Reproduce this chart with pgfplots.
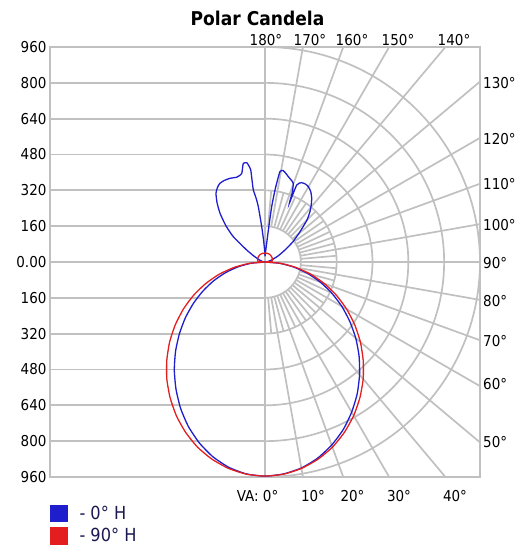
\documentclass[border=0pt]{standalone}
\usepackage{fontspec}
\setmainfont{DejaVu Sans}[FakeStretch=0.9]
\usepackage{pgfplots}
\pgfplotsset{compat=1.18}
\definecolor{gridc}{RGB}{192,192,192}
\definecolor{cblue}{RGB}{30,30,205}
\definecolor{cred}{RGB}{228,30,30}
\definecolor{legtext}{RGB}{25,25,80}
\newcommand{\tickfont}{\fontsize{15}{18}\selectfont}
\begin{document}
\begin{tikzpicture}[gridl/.style={draw=gridc, line width=1.7pt}]
\path[use as bounding box] (-265pt,-284pt) rectangle (266pt,262pt);
\begin{axis}[
  at={(0pt,0pt)}, anchor=center,
  scale only axis, width=430pt, height=430pt,
  xmin=-960, xmax=960, ymin=-960, ymax=960,
  axis line style={draw=gridc, line width=1.8pt},
  xtick=\empty,
  ytick={-960,-800,-640,-480,-320,-160,0,160,320,480,640,800,960},
  yticklabels={960,800,640,480,320,160,0.00,160,320,480,640,800,960},
  tick style={draw=none},
  yticklabel style={font=\tickfont, text=black},
  legend style={at={(axis description cs:0,-0.064)}, anchor=north west,
    draw=none, fill=none, inner sep=0pt, row sep=5.2pt, column sep=12pt,
    font=\fontsize{18}{20}\selectfont, text=legtext, nodes={inner sep=0pt}},
  legend cell align=left,
  legend image code/.code={\fill[#1] (0pt,-8pt) rectangle (16pt,8pt);},
]
% left half horizontal grid
\pgfplotsinvokeforeach{-800,-640,-480,-320,-160,160,320,480,640,800}{
  \draw[gridl] (axis cs:-960,#1) -- (axis cs:0,#1);
}
\draw[gridl] (axis cs:-960,0) -- (axis cs:960,0);
\draw[gridl] (axis cs:0,-960) -- (axis cs:0,960);
% polar arcs on right half
\pgfplotsinvokeforeach{160,320,480,640,800,960}{
  \draw[gridl] plot[domain=-90:90, samples=91, variable=\t] (axis cs:{#1*cos(\t)},{#1*sin(\t)});
}
% 10 degree radial lines
\pgfplotsinvokeforeach{-80,-70,-60,-50,-40,-30,-20,-10,10,20,30,40,50,60,70,80}{
  \draw[gridl] (axis cs:{160*cos(#1)},{160*sin(#1)}) --
    (axis cs:{960/max(abs(cos(#1)),abs(sin(#1)))*cos(#1)},{960/max(abs(cos(#1)),abs(sin(#1)))*sin(#1)});
}
% 5 degree radial lines, inner ring
\pgfplotsinvokeforeach{-85,-75,-65,-55,-45,-35,-25,-15,-5,5,15,25,35,45,55,65,75,85}{
  \draw[gridl] (axis cs:{160*cos(#1)},{160*sin(#1)}) -- (axis cs:{320*cos(#1)},{320*sin(#1)});
}
% 0 deg H (blue)
\addplot[color=cblue, line width=1.3pt, data cs=polar, smooth, tension=0.35] coordinates {
(90,25) (87,45) (85,80) (84,140) (83.1,249) (82,330) (80.6,409) (78.7,416) (76.5,405)
(74.7,395) (72.5,385) (70.2,373) (68.5,330) (67.5,285) (67.6,372) (65.2,390) (62.5,392)
(60.1,388) (57,375) (53.8,353) (51,328) (48.2,301) (45,265) (40.9,207) (36,155) (31,104)
(25,65) (17,31) (10,15) (5,8) (0,0) (-5,65) (-10,131) (-15,197) (-20,263) (-25,329)
(-30,396) (-35,462) (-40,529) (-45,594) (-50,657) (-55,718) (-60,774) (-65,826) (-70,870)
(-75,907) (-80,934) (-85,950) (-90,956) (-95,950) (-100,931) (-105,900) (-110,859)
(-115,810) (-120,754) (-125,693) (-130,630) (-135,565) (-140,499) (-145,434) (-150,369)
(-155,305) (-160,243) (-165,181) (-170,120) (-175,60) (-180,0) (-185,8) (-190,12)
(-200,25) (-208,55) (-213.3,98) (-218.6,181) (-223,240) (-227.3,296) (-231,340)
(-234.5,377) (-237.5,395) (-240.2,405) (-243.5,407) (-247.3,405) (-251.5,399)
(-253.5,402) (-255.3,409) (-256.5,430) (-257.6,451) (-259.6,451) (-260.5,435)
(-261.2,416) (-261,370) (-260.8,326) (-262,290) (-263.1,249) (-264.7,158) (-266.5,90)
(-268.5,45) (-270,25)
};
\addlegendentry{- 0° H}
% 90 deg H (red)
\addplot[color=cred, line width=1.3pt, data cs=polar, smooth, tension=0.35] coordinates {
(90,40) (75,40) (60,40) (40,38) (20,36) (10,33) (5,30) (2,20) (0,0) (-5,71) (-10,141)
(-15,212) (-20,282) (-25,352) (-30,421) (-35,489) (-40,556) (-45,620) (-50,682) (-55,739)
(-60,792) (-65,839) (-70,880) (-75,912) (-80,936) (-85,951) (-90,956) (-95,951) (-100,936)
(-105,912) (-110,880) (-115,839) (-120,792) (-125,739) (-130,682) (-135,620) (-140,556)
(-145,489) (-150,421) (-155,352) (-160,282) (-165,212) (-170,141) (-175,71) (-180,0)
(-182,20) (-185,30) (-190,33) (-200,36) (-220,38) (-240,40) (-255,40) (-270,40)
};
\addlegendentry{- 90° H}
\end{axis}
% title
\node[font=\bfseries\fontsize{19}{22}\selectfont] at (-7.5pt,244pt) {Polar Candela};
% top angle labels
\foreach \x/\l in {1/180,45/170,87/160,133/150,189/140}
  \node[font=\tickfont, anchor=base, inner sep=0pt] at (\x pt,216pt) {\l°};
% right angle labels
\foreach \y/\l in {179/130,123/120,78/110,37/100,-1/90,-39/80,-79/70,-122/60,-180/50}
  \node[font=\tickfont, anchor=west, inner sep=0pt] at (218pt,\y pt) {\l°};
% bottom angle labels
\node[font=\tickfont, anchor=base east, inner sep=0pt] at (13.5pt,-239.5pt) {VA: 0°};
\foreach \x/\l in {48/10,87.5/20,134/30,190/40}
  \node[font=\tickfont, anchor=base, inner sep=0pt] at (\x pt,-239.5pt) {\l°};
\end{tikzpicture}
\end{document}
